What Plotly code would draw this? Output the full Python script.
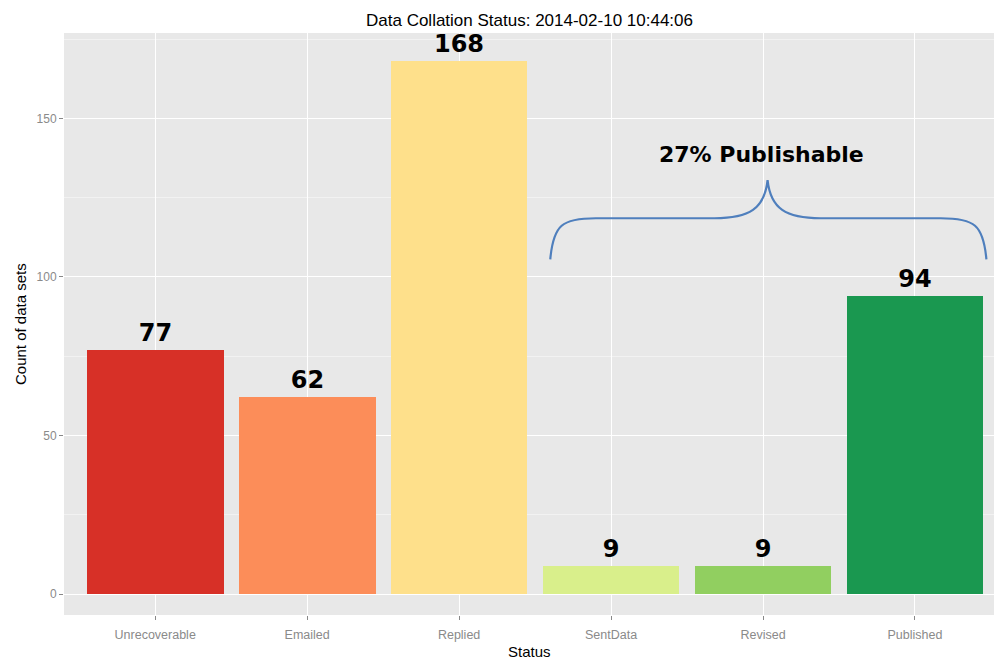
import plotly.graph_objects as go

categories = ["Unrecoverable", "Emailed", "Replied", "SentData", "Revised", "Published"]
counts = [77, 62, 168, 9, 9, 94]
colors = ["#d73027", "#fc8d59", "#fee08b", "#d9ef8b", "#91cf60", "#1a9850"]
y_ticks = [0, 50, 100, 150]
brace_label = "27% Publishable"

xpos = list(range(1, len(categories) + 1))

fig = go.Figure()
fig.add_trace(go.Bar(
    x=xpos, y=counts, width=0.9,
    marker=dict(color=colors, line=dict(width=0)),
    text=[f"<b>{c}</b>" for c in counts], textposition="outside",
    textfont=dict(family="DejaVu Sans", size=24, color="black"),
    constraintext="none", cliponaxis=False, showlegend=False,
    hoverinfo="skip",
))

# curly brace annotation over SentData..Published (data coordinates)
bx0, bx1, bmid = 3.6, 6.47, 5.03
by0, byh, bytop = 105.5, 118.5, 130.5
path = (f"M {bx0},{by0} C {bx0+0.02},{byh-2} {bx0+0.08},{byh} {bx0+0.3},{byh} "
        f"L {bmid-0.35},{byh} C {bmid-0.12},{byh} {bmid-0.02},{byh+3} {bmid},{bytop} "
        f"C {bmid+0.02},{byh+3} {bmid+0.12},{byh} {bmid+0.35},{byh} "
        f"L {bx1-0.3},{byh} C {bx1-0.08},{byh} {bx1-0.02},{byh-2} {bx1},{by0}")
fig.add_shape(type="path", path=path, xref="x", yref="y",
              line=dict(color="#4f7fbd", width=2.2))
fig.add_annotation(x=bmid - 0.04, y=138.5, text=f"<b>{brace_label}</b>", showarrow=False,
                   font=dict(family="DejaVu Sans", size=22, color="black"),
                   xref="x", yref="y")

# title and axis titles
fig.add_annotation(text="Data Collation Status: 2014-02-10 10:44:06", xref="paper", yref="paper",
                   x=0.5, y=1, xanchor="center", yanchor="middle", yshift=13, showarrow=False,
                   font=dict(family="Liberation Sans", size=17, color="black"))
fig.add_annotation(text="Status", xref="paper", yref="paper",
                   x=0.5, y=0, xanchor="center", yanchor="middle", yshift=-36, showarrow=False,
                   font=dict(family="Liberation Sans", size=15, color="black"))
fig.add_annotation(text="Count of data sets", xref="paper", yref="paper", textangle=-90,
                   x=0, y=0.5, xanchor="center", yanchor="middle", xshift=-44, showarrow=False,
                   font=dict(family="Liberation Sans", size=15, color="black"))

fig.update_layout(
    width=994, height=660,
    margin=dict(l=64, r=0, t=33, b=45, autoexpand=False),
    paper_bgcolor="white", plot_bgcolor="#E8E8E8",
    font=dict(family="Liberation Sans"),
    bargap=0,
)
fig.update_xaxes(
    range=[0.4, 6.52], tickvals=xpos, ticktext=categories, automargin=False,
    showgrid=True, gridcolor="white", gridwidth=1.2, zeroline=False,
    ticks="outside", ticklen=4, tickcolor="#888888", ticklabelstandoff=4,
    tickfont=dict(size=12.5, color="#8a8a8a"),
)
fig.update_yaxes(
    range=[-6.6, 176.9], tickvals=y_ticks, automargin=False,
    showgrid=True, gridcolor="white", gridwidth=1.2, zeroline=False,
    ticks="outside", ticklen=4, tickcolor="#888888",
    tickfont=dict(size=12, color="#8a8a8a"),
    minor=dict(tickvals=[25, 75, 125, 175], showgrid=True, gridcolor="#F2F2F2", ticks=""),
)

fig.write_html("out.html", config={"displayModeBar": False},
               post_script="document.body.style.margin='0';document.body.style.overflow='hidden';")
